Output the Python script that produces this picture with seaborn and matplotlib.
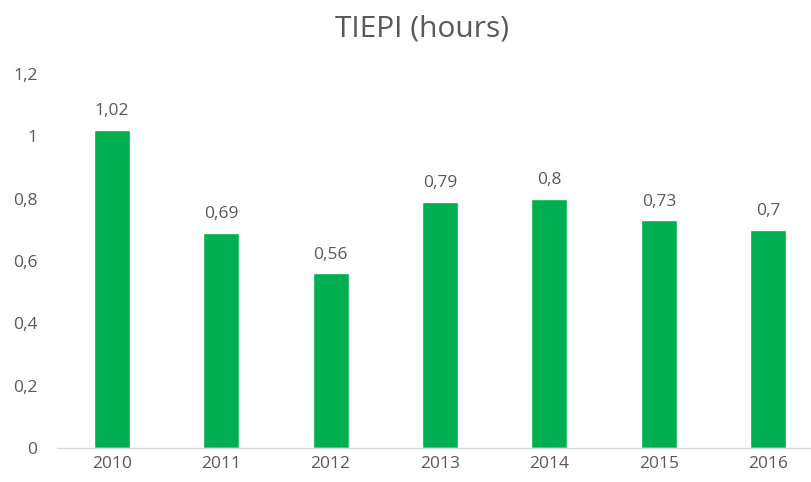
import numpy as np
import pandas as pd
import seaborn as sns
import matplotlib.pyplot as plt

# TIEPI values per year (hours)
years = ["2010", "2011", "2012", "2013", "2014", "2015", "2016"]
tiepi = [1.02, 0.69, 0.56, 0.79, 0.80, 0.73, 0.70]
value_labels = ["1,02", "0,69", "0,56", "0,79", "0,8", "0,73", "0,7"]
y_ticks = [0, 0.2, 0.4, 0.6, 0.8, 1.0, 1.2]
y_tick_labels = ["0", "0,2", "0,4", "0,6", "0,8", "1", "1,2"]

df = pd.DataFrame({"year": years, "tiepi": tiepi})

sns.set_style("white")
plt.rcParams["font.family"] = ["Open Sans", "DejaVu Sans"]
text_color = "#595959"

fig = plt.figure(figsize=(8.11, 4.82), dpi=100)
ax = fig.add_axes([0.0703, 0.0705, 0.9445, 0.776])

sns.barplot(data=df, x="year", y="tiepi", color="#00B050", saturation=1,
            width=0.33, ax=ax)

for i, (v, lab) in enumerate(zip(tiepi, value_labels)):
    ax.text(i, v + 0.035, lab, ha="center", va="bottom", fontsize=12.5, color=text_color)

ax.set_ylim(0, 1.2)
ax.set_xlim(-0.5, len(years) - 0.5)
ax.set_yticks(y_ticks)
ax.set_yticklabels(y_tick_labels)
ax.tick_params(axis="both", length=0, labelsize=12.5, labelcolor=text_color)
ax.tick_params(axis="y", pad=14)
ax.tick_params(axis="x", pad=6)
ax.set_xlabel("")
ax.set_ylabel("")

for side in ["top", "right", "left"]:
    ax.spines[side].set_visible(False)
ax.spines["bottom"].set_color("#D9D9D9")
ax.spines["bottom"].set_linewidth(1)

fig.text(0.52, 0.94, "TIEPI (hours)", ha="center", va="center", fontsize=21.5, color=text_color)

fig.savefig("out.png", dpi=100)
